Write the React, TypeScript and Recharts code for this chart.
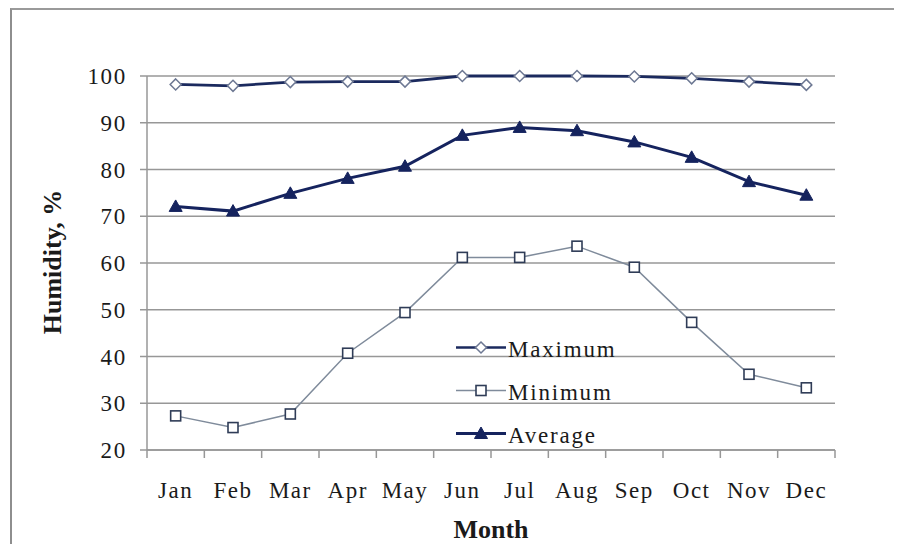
import { LineChart, Line, XAxis, YAxis, CartesianGrid } from "recharts";

const MONTHS = ["Jan", "Feb", "Mar", "Apr", "May", "Jun", "Jul", "Aug", "Sep", "Oct", "Nov", "Dec"];
const MAXIMUM = [98.2, 97.9, 98.7, 98.8, 98.8, 100, 100, 100, 99.9, 99.5, 98.8, 98.1];
const MINIMUM = [27.3, 24.8, 27.7, 40.7, 49.4, 61.2, 61.2, 63.6, 59.1, 47.3, 36.2, 33.3];
const AVERAGE = [72.1, 71.1, 74.9, 78.1, 80.7, 87.3, 89.0, 88.3, 85.9, 82.6, 77.4, 74.5];
const Y_TICKS = [20, 30, 40, 50, 60, 70, 80, 90, 100];

const data = MONTHS.map((month, i) => ({
  month,
  maximum: MAXIMUM[i],
  minimum: MINIMUM[i],
  average: AVERAGE[i],
}));

const WIDTH = 886;
const HEIGHT = 536;
const MARGIN = { top: 68, right: 59, bottom: 44, left: 79 };
const Y_AXIS_W = 60;
const X_AXIS_H = 50;
const PLOT_W = WIDTH - MARGIN.left - MARGIN.right - Y_AXIS_W;
const BAND = PLOT_W / MONTHS.length;

const FONT = "'Liberation Serif', 'Times New Roman', serif";
const TEXT = "#1a1a1a";
const GRID = "#979797";

const MAX_LINE = "#1b2a5e";
const MAX_MARK = "#6d7893";
const MIN_LINE = "#7f8b9b";
const MIN_MARK = "#2f3c57";
const AVG_LINE = "#15235e";

function Diamond({ cx, cy }: any) {
  if (cx == null || cy == null) return null;
  const r = 5.5;
  return (
    <path
      d={`M${cx},${cy - r} L${cx + r},${cy} L${cx},${cy + r} L${cx - r},${cy} Z`}
      fill="#ffffff"
      stroke={MAX_MARK}
      strokeWidth={1.5}
    />
  );
}

function Square({ cx, cy }: any) {
  if (cx == null || cy == null) return null;
  const r = 5;
  return (
    <rect x={cx - r} y={cy - r} width={2 * r} height={2 * r} fill="#ffffff" stroke={MIN_MARK} strokeWidth={1.6} />
  );
}

function Triangle({ cx, cy }: any) {
  if (cx == null || cy == null) return null;
  return (
    <path
      d={`M${cx},${cy - 6.5} L${cx + 6.5},${cy + 5} L${cx - 6.5},${cy + 5} Z`}
      fill={AVG_LINE}
      stroke={AVG_LINE}
      strokeWidth={1}
    />
  );
}

// month label centred on the band, tick marks on the band edges
function MonthTick({ x, y, payload, index }: any) {
  const left = x - BAND / 2;
  const right = x + BAND / 2;
  return (
    <g>
      <line x1={left} x2={left} y1={y} y2={y + 8} stroke={GRID} strokeWidth={1.5} />
      {index === MONTHS.length - 1 && (
        <line x1={right} x2={right} y1={y} y2={y + 8} stroke={GRID} strokeWidth={1.5} />
      )}
      <text
        x={x}
        y={y + 48}
        textAnchor="middle"
        fontFamily={FONT}
        fontSize={23}
        letterSpacing={1.5}
        fill={TEXT}
      >
        {payload.value}
      </text>
    </g>
  );
}

function ValueTick({ x, y, payload }: any) {
  return (
    <text
      x={x}
      y={y}
      dy="0.35em"
      textAnchor="end"
      fontFamily={FONT}
      fontSize={23}
      letterSpacing={1.7}
      fill={TEXT}
    >
      {payload.value}
    </text>
  );
}

const LEGEND_ITEMS = [
  { label: "Maximum", line: MAX_LINE, width: 2.5, Mark: Diamond },
  { label: "Minimum", line: MIN_LINE, width: 1.5, Mark: Square },
  { label: "Average", line: AVG_LINE, width: 3, Mark: Triangle },
];

function LegendBox() {
  return (
    <div style={{ position: "absolute", left: 448, top: 318 }}>
      {LEGEND_ITEMS.map(({ label, line, width, Mark }) => (
        <div key={label} style={{ display: "flex", alignItems: "center", height: 43 }}>
          <svg width={52} height={43} style={{ display: "block" }}>
            <line x1={0} x2={50} y1={21.5} y2={21.5} stroke={line} strokeWidth={width} />
            <Mark cx={25} cy={21.5} />
          </svg>
          <span
            style={{
              fontFamily: FONT,
              fontSize: 23,
              letterSpacing: 1.8,
              color: TEXT,
              paddingTop: 5,
              whiteSpace: "nowrap",
            }}
          >
            {label}
          </span>
        </div>
      ))}
    </div>
  );
}

export default function App() {
  return (
    <div style={{ position: "relative", width: WIDTH, height: HEIGHT, overflow: "hidden", background: "#fff" }}>
      <div
        style={{
          position: "absolute",
          left: 2,
          top: 0,
          width: 886,
          height: 600,
          borderTop: "2px solid #9a9a9a",
          borderLeft: "2px solid #8e8e8e",
          borderRight: "2px solid #d6d6d6",
          boxSizing: "border-box",
        }}
      />
      <div style={{ position: "absolute", left: 0, top: 0 }}>
        <LineChart width={WIDTH} height={HEIGHT} data={data} margin={MARGIN}>
          <CartesianGrid vertical={false} stroke={GRID} strokeWidth={1.5} />
          <XAxis
            dataKey="month"
            height={X_AXIS_H}
            interval={0}
            padding={{ left: BAND / 2, right: BAND / 2 }}
            tickSize={0}
            tickMargin={0}
            tick={<MonthTick />}
            axisLine={{ stroke: GRID, strokeWidth: 1.5 }}
          />
          <YAxis
            width={Y_AXIS_W}
            domain={[20, 100]}
            ticks={Y_TICKS}
            interval={0}
            tickSize={7}
            tickMargin={13}
            tick={<ValueTick />}
            tickLine={{ stroke: GRID, strokeWidth: 1.5 }}
            axisLine={{ stroke: GRID, strokeWidth: 1.5 }}
          />
          <Line
            type="linear"
            dataKey="maximum"
            name="Maximum"
            stroke={MAX_LINE}
            strokeWidth={2.8}
            dot={<Diamond />}
            activeDot={false}
            isAnimationActive={false}
          />
          <Line
            type="linear"
            dataKey="minimum"
            name="Minimum"
            stroke={MIN_LINE}
            strokeWidth={1.5}
            dot={<Square />}
            activeDot={false}
            isAnimationActive={false}
          />
          <Line
            type="linear"
            dataKey="average"
            name="Average"
            stroke={AVG_LINE}
            strokeWidth={3}
            dot={<Triangle />}
            activeDot={false}
            isAnimationActive={false}
          />
        </LineChart>
      </div>
      <LegendBox />
      <div
        style={{
          position: "absolute",
          left: 45,
          top: 254,
          width: 0,
          height: 0,
        }}
      >
        <div
          style={{
            position: "absolute",
            transform: "translate(-50%, -50%) rotate(-90deg)",
            fontFamily: FONT,
            fontWeight: "bold",
            fontSize: 26,
            color: TEXT,
            whiteSpace: "nowrap",
          }}
        >
          Humidity, %
        </div>
      </div>
      <div
        style={{
          position: "absolute",
          left: 483,
          top: 522,
          transform: "translate(-50%, -50%)",
          fontFamily: FONT,
          fontWeight: "bold",
          fontSize: 26,
          color: TEXT,
          whiteSpace: "nowrap",
        }}
      >
        Month
      </div>
    </div>
  );
}
